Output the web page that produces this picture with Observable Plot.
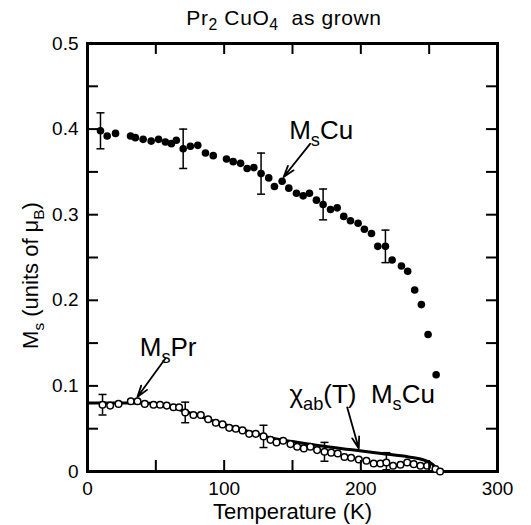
<!DOCTYPE html>
<html><head><meta charset="utf-8">
<script src="https://cdn.jsdelivr.net/npm/d3@7"></script>
<script src="https://cdn.jsdelivr.net/npm/@observablehq/plot@0.6"></script>
<style>
body{margin:0;background:#fff;}
#title{height:28px;box-sizing:border-box;padding-top:9px;padding-left:37px;width:531px;text-align:center;
 font:21px "Liberation Sans",Arial,sans-serif;letter-spacing:0.6px;line-height:18px;color:#000;}
#title sub{font-size:75%;vertical-align:-0.3em;line-height:0;}
svg{overflow:visible;}
</style></head>
<body>
<div id="title">Pr<sub>2</sub> CuO<sub>4</sub>&nbsp; as grown</div>
<div id="chart"></div>
<script>
// M_s(Cu) filled circles: temperature (K), moment (mu_B)
const cuT = [9.5,14.4,20.5,31.5,35,40.7,46.6,52,57,61.4,65,70,75.3,80.7,86.3,92,101.7,106.6,112,116.8,121.7,127,132.6,136.8,142.4,147.3,152.9,157.8,162.4,167.5,172.4,177.8,182.7,187.5,192.4,198,202.6,207.8,212.4,218,222.9,229.7,234.3,239.4,244.3,249.2,255.1];
const cuM = [0.398,0.392,0.395,0.392,0.390,0.388,0.386,0.388,0.385,0.383,0.387,0.377,0.380,0.381,0.372,0.369,0.365,0.362,0.360,0.354,0.355,0.348,0.343,0.333,0.339,0.331,0.325,0.322,0.325,0.317,0.312,0.306,0.308,0.298,0.293,0.290,0.283,0.278,0.263,0.263,0.247,0.240,0.234,0.212,0.195,0.160,0.113];
// error bars on M_s(Cu)
const cuErrT = [9.5,70,127,172.4,218];
const cuErrM = [0.398,0.377,0.348,0.312,0.263];
const cuErr  = [0.021,0.023,0.024,0.018,0.019];

// M_s(Pr) open circles
const prT = [11,16.6,22.7,31.7,36.6,41.9,48.3,53.1,58,62.9,67,71.5,77.5,82.9,88.3,93.9,98.8,103.7,108.5,113.4,118.3,123.1,128.8,133.9,138.3,143.2,148.5,153.4,158.3,163.1,168,173.4,178.3,183.1,188,192.9,198.5,204.1,209.4,214.3,218.7,223.6,229,233.9,238.7,243.6,248.5,254.6,258];
const prM = [0.078,0.077,0.079,0.082,0.082,0.079,0.078,0.078,0.077,0.075,0.075,0.069,0.066,0.066,0.061,0.057,0.055,0.051,0.050,0.048,0.044,0.044,0.041,0.037,0.034,0.036,0.032,0.029,0.027,0.029,0.025,0.023,0.022,0.021,0.017,0.016,0.014,0.0125,0.0093,0.0093,0.0105,0.0067,0.0078,0.0105,0.0086,0.0067,0.0067,0.003,0.0];
const prErrT = [11,71.5,128.8,173.4,218.7];
const prErrM = [0.078,0.069,0.041,0.023,0.012];
const prErr  = [0.012,0.012,0.013,0.011,0.010];

// chi_ab(T) * M_s(Cu) solid curve
const chiT = [0,20,40,50,60,70,80,90,100,110,120,130,150,170,195,215,235,245,250,254,257];
const chiM = [0.080,0.080,0.080,0.079,0.076,0.071,0.066,0.060,0.055,0.050,0.046,0.041,0.035,0.030,0.025,0.021,0.017,0.014,0.011,0.006,0.0];

// annotations
const labelText = ["M_{s}Cu","M_{s}Pr","χ_{ab}(T)  M_{s}Cu"];
const labelT = [171,59,201];
const labelM = [0.398,0.145,0.090];
const arrowT1 = [163,57,190];
const arrowM1 = [0.383,0.132,0.075];
const arrowT2 = [143.5,36.5,198.5];
const arrowM2 = [0.344,0.087,0.027];

// axes
const xTickLabels = [0,100,200,300];
const yTickLabels = [0,0.1,0.2,0.3,0.4,0.5];
const xTicks = [50,100,150,200,250];
const yTicks = [0.05,0.1,0.15,0.2,0.25,0.3,0.35,0.4,0.45];
const xTitle = "Temperature (K)";
const yTitle = "M_{s} (units of μ_{B})";

const cu = cuT.map((t,i)=>({t, m:cuM[i]}));
const pr = prT.map((t,i)=>({t, m:prM[i]}));
const chi = chiT.map((t,i)=>({t, m:chiM[i]}));
const cuE = cuErrT.map((t,i)=>({t, lo:cuErrM[i]-cuErr[i], hi:cuErrM[i]+cuErr[i]}));
const prE = prErrT.map((t,i)=>({t, lo:prErrM[i]-prErr[i], hi:prErrM[i]+prErr[i]}));
const errs = cuE.concat(prE);
const caps = errs.flatMap(d=>[{t:d.t,m:d.lo},{t:d.t,m:d.hi}]);
const labels = labelText.map((s,i)=>({s, t:labelT[i], m:labelM[i]}));
const arrows = arrowT1.map((t,i)=>({x1:t,y1:arrowM1[i],x2:arrowT2[i],y2:arrowM2[i]}));

const capSymbol = {draw(ctx, size){ const r = Math.sqrt(size/Math.PI); ctx.moveTo(-r,0); ctx.lineTo(r,0); }};

const W = 531, H = 497, ML = 87, MR = 34, MT = 15, MB = 54;
const FW = W - ML - MR, FH = H - MT - MB, TL = 11; // frame size, inward tick length
const tk = {stroke:"black", strokeWidth:2};
const FONT = '"Liberation Sans",Arial,sans-serif';

const chart = Plot.plot({
  width: W, height: H,
  marginLeft: ML, marginRight: MR, marginTop: MT, marginBottom: MB,
  style: {fontFamily: FONT, background: "#fff", color: "#000"},
  x: {domain: [0,300]},
  y: {domain: [0,0.5]},
  marks: [
    Plot.axisX({anchor:"bottom", ticks:xTickLabels, tickSize:0, tickPadding:10, fontSize:19, label:null, tickFormat:d=>String(d)}),
    Plot.axisY({anchor:"left", ticks:yTickLabels, tickSize:0, tickPadding:9, fontSize:19, label:null, tickFormat:d=>d===0?"0":d.toFixed(1)}),
    Plot.frame({stroke:"black", strokeWidth:3}),
    Plot.line(chi, {x:"t", y:"m", strokeWidth:3, curve:"monotone-x"}),
    Plot.ruleX(errs, {x:"t", y1:"lo", y2:"hi", strokeWidth:1.5}),
    Plot.dot(caps, {x:"t", y:"m", symbol:capSymbol, r:4, stroke:"black", strokeWidth:1.5, fill:"none"}),
    Plot.dot(cu, {x:"t", y:"m", r:3.8, fill:"black", stroke:"none"}),
    Plot.dot(pr, {x:"t", y:"m", r:3.3, fill:"white", stroke:"black", strokeWidth:1.5}),
    Plot.arrow(arrows, {x1:"x1", y1:"y1", x2:"x2", y2:"y2", strokeWidth:1.8, headLength:10, headAngle:35}),
    Plot.text(labels, {x:"t", y:"m", text:"s", fontSize:26, fontFamily:FONT}),
    Plot.text([xTitle], {frameAnchor:"bottom", lineAnchor:"middle", textAnchor:"middle", dy:40, fontSize:22, text:d=>d}),
    Plot.text([yTitle], {frameAnchor:"left", lineAnchor:"middle", textAnchor:"middle", dx:-57, dy:18, rotate:-90, fontSize:22, text:d=>d}),
    // inward ticks on all four sides
    Plot.ruleX(xTicks, {x:d=>d, insetTop: FH - TL, ...tk}),
    Plot.ruleX(xTicks, {x:d=>d, insetBottom: FH - TL, ...tk}),
    Plot.ruleY(yTicks, {y:d=>d, insetRight: FW - TL, ...tk}),
    Plot.ruleY(yTicks, {y:d=>d, insetLeft: FW - TL, ...tk})
  ]
});
document.getElementById("chart").appendChild(chart);

// subscripts: convert "_{...}" into lowered smaller tspans
d3.select(chart).selectAll("text").each(function(){
  const el = d3.select(this);
  const s = this.textContent;
  if (!s.includes("_{")) return;
  const fs = parseFloat(getComputedStyle(this).fontSize) || 20;
  const parts = s.split(/_\{([^}]*)\}/);
  el.text(null);
  let lowered = false;
  parts.forEach((p,i)=>{
    if (p === "") return;
    const ts = el.append("tspan").text(p);
    if (i % 2 === 1) {
      ts.attr("font-size", fs*0.7).attr("dy", lowered ? 0 : fs*0.28);
      lowered = true;
    } else if (lowered) {
      ts.attr("dy", -fs*0.28);
      lowered = false;
    }
  });
});
</script>
</body></html>
